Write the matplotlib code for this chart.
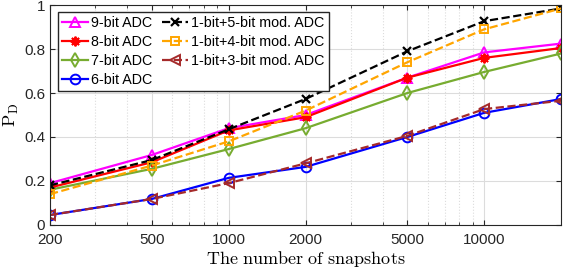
import matplotlib
matplotlib.use("Agg")
import matplotlib.pyplot as plt
from matplotlib.ticker import FixedLocator, NullFormatter

plt.rcParams['font.family'] = ['Liberation Sans', 'DejaVu Sans']
plt.rcParams['mathtext.fontset'] = 'cm'

snapshots = [200, 500, 1000, 2000, 5000, 10000, 20000]

pd_9bit = [0.19, 0.318, 0.44, 0.50, 0.67, 0.785, 0.825]
pd_8bit = [0.17, 0.285, 0.43, 0.49, 0.67, 0.76, 0.805]
pd_7bit = [0.16, 0.255, 0.345, 0.44, 0.60, 0.696, 0.78]
pd_6bit = [0.045, 0.118, 0.214, 0.264, 0.40, 0.51, 0.573]
pd_mod5 = [0.18, 0.295, 0.435, 0.573, 0.79, 0.927, 0.985]
pd_mod4 = [0.14, 0.27, 0.38, 0.52, 0.74, 0.89, 0.985]
pd_mod3 = [0.045, 0.118, 0.19, 0.28, 0.405, 0.527, 0.565]

xticks = [200, 500, 1000, 2000, 5000, 10000]

fig = plt.figure(figsize=(5.68, 2.70), dpi=100)
ax = fig.add_axes([0.088, 0.167, 0.9, 0.814])

lw = 1.6
ms = 7
asterisk = (8, 2, 0)
ax.plot(snapshots, pd_9bit, '-^', color='#FF00FF', lw=lw, ms=ms, mfc='none', mew=1.4, label='9-bit ADC')
ax.plot(snapshots, pd_8bit, '-', marker=asterisk, color='#FF0000', lw=lw, ms=ms, mfc='none', mew=1.4, label='8-bit ADC')
ax.plot(snapshots, pd_7bit, '-d', color='#77AC30', lw=lw, ms=ms, mfc='none', mew=1.4, label='7-bit ADC')
ax.plot(snapshots, pd_6bit, '-o', color='#0000FF', lw=lw, ms=ms, mfc='none', mew=1.4, label='6-bit ADC')
ax.plot(snapshots, pd_mod5, '--x', color='black', lw=lw, ms=6, mfc='none', mew=1.6, label='1-bit+5-bit mod. ADC')
ax.plot(snapshots, pd_mod4, '--s', color='#FFA500', lw=lw, ms=6, mfc='none', mew=1.4, label='1-bit+4-bit mod. ADC')
ax.plot(snapshots, pd_mod3, '--<', color='#A52A2A', lw=lw, ms=ms, mfc='none', mew=1.4, label='1-bit+3-bit mod. ADC')

ax.set_xscale('log')
ax.set_xlim(200, 20000)
ax.set_ylim(0, 1)
ax.set_xticks(xticks)
ax.set_xticklabels([str(t) for t in xticks])
minors = [m * 10 ** e for e in range(2, 5) for m in range(2, 10)]
ax.xaxis.set_minor_locator(FixedLocator(minors))
ax.xaxis.set_minor_formatter(NullFormatter())
ax.set_yticks([0, 0.2, 0.4, 0.6, 0.8, 1])
ax.set_yticklabels(['0', '0.2', '0.4', '0.6', '0.8', '1'])

ax.grid(True, which='major', color='#DCDCDC', lw=0.8)
ax.grid(True, which='minor', axis='x', color='#DCDCDC', ls=':', lw=0.8)
ax.set_axisbelow(True)
ax.tick_params(which='both', direction='in', top=True, right=True, colors='#262626', labelsize=11)
ax.tick_params(axis='x', pad=6)
ax.tick_params(which='minor', length=2)
for s in ax.spines.values():
    s.set_color('#262626')

ax.set_xlabel(r'$\mathrm{The\ number\ of\ snapshots}$', fontsize=13, labelpad=1)
ax.set_ylabel(r'$\mathrm{P_D}$', fontsize=13, labelpad=2)

ax.legend(loc='upper left', ncol=2, fontsize=10.3, frameon=True, fancybox=False,
          edgecolor='#262626', framealpha=1, borderpad=0.3, labelspacing=0.33,
          handlelength=1.8, handletextpad=0.2, columnspacing=0.7,
          borderaxespad=0, bbox_to_anchor=(0.016, 0.968))

fig.savefig('out.png', dpi=100)
